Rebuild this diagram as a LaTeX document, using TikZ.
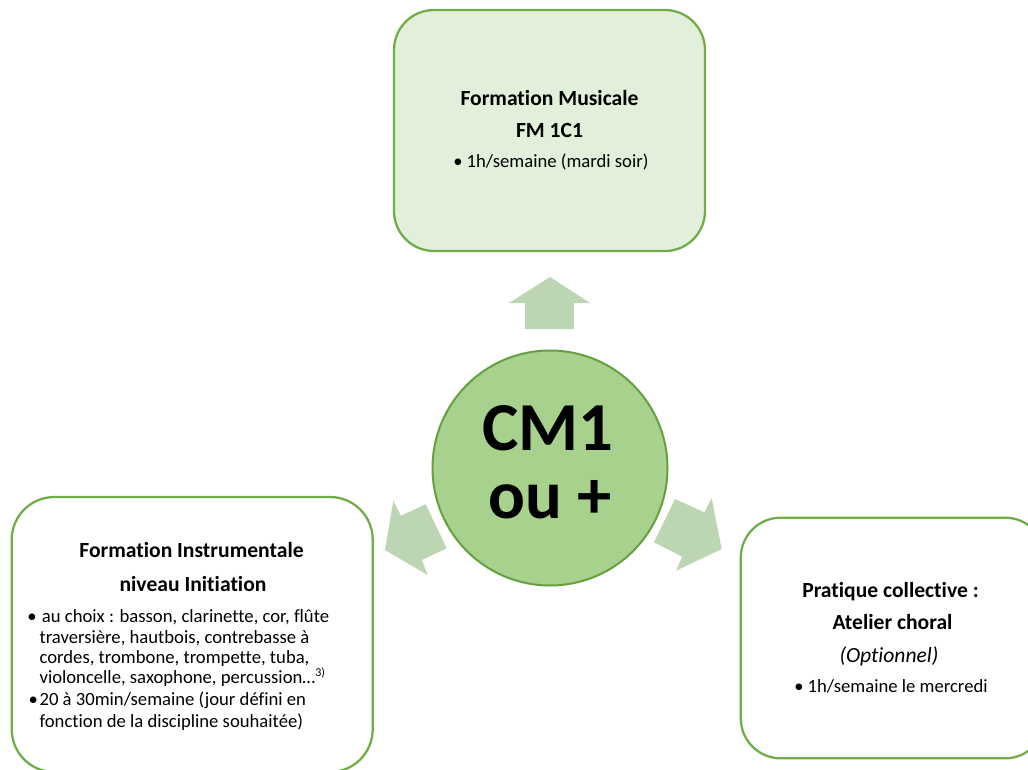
\documentclass[tikz,border=0pt]{standalone}
\usepackage{fontspec}
\setmainfont{Carlito}[Ligatures=NoCommon]
\definecolor{boxgreen}{HTML}{70AD47}
\definecolor{circline}{HTML}{65A03F}
\definecolor{lightfill}{HTML}{E2EFDA}
\definecolor{circfill}{HTML}{A9D18E}
\definecolor{arrowfill}{HTML}{BCD6B3}
\begin{document}
\begin{tikzpicture}[x=0.75pt,y=-0.75pt,
  box/.style={draw=boxgreen, line width=1.7pt, rounded corners=30pt, inner sep=0pt},
  title/.style={font=\fontsize{16.2}{18}\selectfont\bfseries, anchor=base, inner sep=0pt},
  body/.style={font=\fontsize{14}{16}\selectfont, anchor=base west, inner sep=0pt},
  bodyc/.style={font=\fontsize{14}{16}\selectfont, anchor=base, inner sep=0pt},
  bodyi/.style={font=\fontsize{16.2}{18}\selectfont\itshape, anchor=base, inner sep=0pt},
  big/.style={font=\fontsize{51.5}{53}\selectfont\bfseries, anchor=base, inner sep=0pt}]
\useasboundingbox (0,0) rectangle (1028,770);
\clip (0,0) rectangle (1028,770);
\fill[white] (0,0) rectangle (1028,770);

% boxes
\node[box, fill=lightfill, minimum width=233.25pt, minimum height=180.75pt] (fm) at (549.5,130.5) {};
\node[box, fill=white, minimum width=270.75pt, minimum height=206.25pt, rounded corners=32pt] (fi) at (192.2,634.5) {};
\node[box, fill=white, minimum width=228.2pt, minimum height=180.5pt] (pc) at (892.9,638) {};

% centre circle
\node[circle, draw=circline, line width=1.5pt, fill=circfill, minimum size=176.25pt, inner sep=0pt] (cm) at (550,468) {};
\node[big] (cmA) at (548,450) {CM1};
\node[big] (cmB) at (550,518) {ou +};

% block arrows
\fill[arrowfill] (550,277) -- (590,303) -- (574,303) -- (574,329) -- (525,329) -- (525,303) -- (509,303) -- cycle;
\fill[arrowfill] (393.3,501) -- (401,515.7) -- (425.7,504.3) -- (446.7,548.3) -- (421.7,560) -- (427.7,575) -- (385,550) -- cycle;
\fill[arrowfill] (675,499) -- (704.3,512.3) -- (711.7,498.3) -- (721.7,549) -- (676,570.7) -- (682.3,556.7) -- (654,542.3) -- cycle;

% top box text
\node[title] (fmT1) at (549.5,106) {Formation Musicale};
\node[title] (fmT2) at (549.5,138) {FM 1C1};
\node[bodyc] (fmB) at (551,168) {\textbullet\hspace{3pt}1h/semaine (mardi soir)};

% left box text
\node[title] (fiT1) at (191.5,557) {Formation Instrumentale};
\node[title] (fiT2) at (193,591) {niveau Initiation};
\node[body] (fiB1) at (27,622) {\textbullet};
\node[body] (fiL1) at (41.7,622) {au choix : basson, clarinette, cor, flûte};
\node[body] (fiL2) at (39.3,643) {traversière, hautbois, contrebasse à};
\node[body] (fiL3) at (39.3,663) {cordes, trombone, trompette, tuba,};
\node[body] (fiL4) at (39.3,683) {violoncelle, saxophone, percussion…\textsuperscript{\fontsize{9}{10}\selectfont 3)}};
\node[body] (fiB2) at (28.3,705) {\textbullet};
\node[body] (fiL5) at (39.3,705) {20 à 30min/semaine (jour défini en};
\node[body] (fiL6) at (39.3,727) {fonction de la discipline souhaitée)};

% right box text
\node[title] (pcT1) at (890.5,597) {Pratique collective :};
\node[title] (pcT2) at (892.5,629) {Atelier choral};
\node[bodyi] (pcT3) at (889,662) {(Optionnel)};
\node[bodyc] (pcB) at (891,692) {\textbullet\hspace{3pt}1h/semaine le mercredi};
\end{tikzpicture}
\end{document}
